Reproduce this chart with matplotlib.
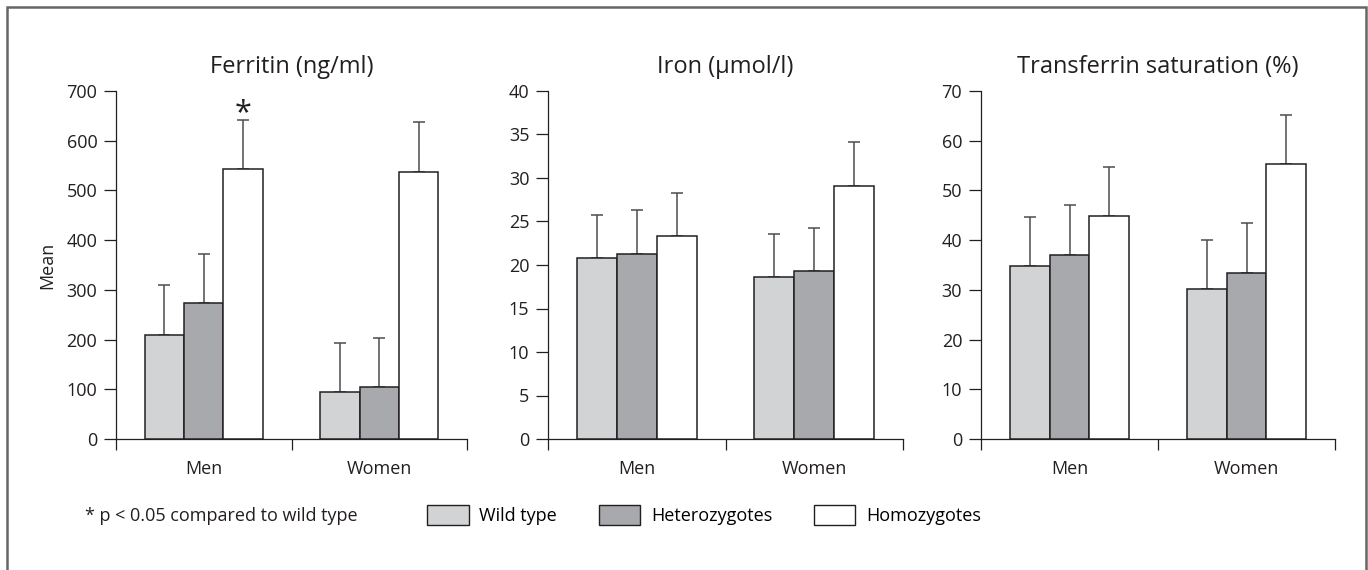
import matplotlib.pyplot as plt
import numpy as np
from matplotlib.patches import Patch, Rectangle

plt.rcParams["font.family"] = ["Open Sans", "DejaVu Sans"]

GROUPS = ["Men", "Women"]
GENOTYPES = ["Wild type", "Heterozygotes", "Homozygotes"]
COLORS = ["#d1d3d4", "#a7a9ac", "#ffffff"]

# rows: wild type, heterozygotes, homozygotes; columns: men, women
ferritin_mean = [[209, 95], [273, 104], [543, 538]]
ferritin_err = [[100, 99], [100, 100], [98, 100]]
iron_mean = [[20.8, 18.6], [21.3, 19.3], [23.3, 29.1]]
iron_err = [[5.0, 5.0], [5.0, 5.0], [5.0, 5.0]]
tsat_mean = [[34.8, 30.2], [37.0, 33.4], [44.9, 55.3]]
tsat_err = [[9.9, 9.9], [10.0, 10.0], [9.8, 9.9]]

PANELS = [
    ("Ferritin (ng/ml)", ferritin_mean, ferritin_err, 700, 100),
    ("Iron (\u03bcmol/l)", iron_mean, iron_err, 40, 5),
    ("Transferrin saturation (%)", tsat_mean, tsat_err, 70, 10),
]
AX_LEFT = [116, 548, 981]
AX_WIDTH = [351, 355, 354]

W, H = 1368, 570
BAR_W = 0.225
INK = "#231f20"
FS = 13


def draw_panel(ax, title, means, errs, ymax, ystep):
    x = np.arange(len(GROUPS))
    for i, (m, e, c) in enumerate(zip(means, errs, COLORS)):
        pos = x + (i - 1) * BAR_W
        ax.bar(pos, m, BAR_W, color=c, edgecolor=INK, linewidth=1.1, zorder=3)
        ax.errorbar(pos, m, yerr=[np.zeros(len(e)), e], fmt="none",
                    ecolor="#4d4d4f", elinewidth=1.1, capsize=4.5,
                    capthick=1.1, zorder=2)
    ax.set_xlim(-0.5, 1.5)
    ax.set_ylim(0, ymax)
    ax.set_yticks(np.arange(0, ymax + 1, ystep))
    ax.set_xticks([-0.5, 0.5, 1.5])
    ax.set_xticklabels([])
    ax.set_xticks(x, minor=True)
    ax.set_xticklabels(GROUPS, minor=True)
    ax.tick_params(axis="x", which="major", length=8, width=0.9, color=INK)
    ax.tick_params(axis="x", which="minor", length=0, pad=15, labelsize=FS,
                   labelcolor=INK)
    ax.tick_params(axis="y", length=8.5, width=0.9, color=INK, pad=5,
                   labelsize=FS, labelcolor=INK)
    for s in ["top", "right"]:
        ax.spines[s].set_visible(False)
    for s in ["left", "bottom"]:
        ax.spines[s].set_color(INK)
        ax.spines[s].set_linewidth(0.9)
    ax.set_title(title, fontsize=17, pad=13, color=INK)


def main():
    fig = plt.figure(figsize=(W / 100, H / 100), dpi=100)
    axes = []
    for (title, means, errs, ymax, ystep), left, width in zip(PANELS, AX_LEFT, AX_WIDTH):
        ax = fig.add_axes([left / W, 1 - 439 / H, width / W, 348 / H])
        draw_panel(ax, title, means, errs, ymax, ystep)
        axes.append(ax)

    axes[0].set_ylabel("Mean", fontsize=FS, labelpad=7, color=INK)
    # significance marker on the male homozygotes bar
    axes[0].text(0 + BAR_W, ferritin_mean[2][0] + ferritin_err[2][0] - 16, "*",
                 ha="center", va="bottom", fontsize=22, color=INK)

    fig.text(85 / W, 1 - 516 / H, "* p < 0.05 compared to wild type",
             ha="left", va="center", fontsize=FS, color=INK)
    handles = [Patch(facecolor=c, edgecolor=INK, linewidth=1.0) for c in COLORS]
    fig.legend(handles, GENOTYPES, loc="center left",
               bbox_to_anchor=(427 / W, 1 - 515 / H), ncol=3, frameon=False,
               fontsize=FS, handlelength=2.3, handleheight=1.3,
               handletextpad=0.6, columnspacing=2.3, borderpad=0, borderaxespad=0)

    fig.add_artist(Rectangle((7 / W, -0.1), 1359 / W, 1.1 - 7 / H,
                             transform=fig.transFigure, fill=False,
                             edgecolor="#666666", linewidth=1.8))
    fig.savefig("out.png", dpi=100)


if __name__ == "__main__":
    main()
